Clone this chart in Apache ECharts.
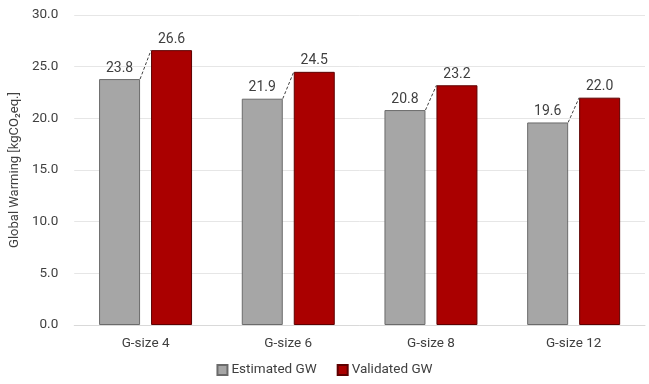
<!DOCTYPE html>
<html>
<head>
<meta charset="utf-8">
<script src="https://cdn.jsdelivr.net/npm/echarts@6/dist/echarts.min.js"></script>
<style>
  html, body { margin: 0; padding: 0; background: #fff; }
  #chart { width: 649px; height: 384px; }
</style>
</head>
<body>
<div id="chart"></div>
<script>
// Global warming per grid size: estimated vs validated
const categories = ['G-size 4', 'G-size 6', 'G-size 8', 'G-size 12'];
const estimatedGW = [23.8, 21.9, 20.8, 19.6];
const validatedGW = [26.6, 24.5, 23.2, 22.0];
const yTicks = { min: 0, max: 30, interval: 5 };

const FONT = 'Roboto';
const BAR_W = 41;
const BAR_GAP = 11;

const chart = echarts.init(document.getElementById('chart'));

// dashed connector from the top-right of the estimated bar to the top-left of the validated bar
const connectorData = categories.map((c, i) => [i, estimatedGW[i], validatedGW[i]]);

chart.setOption({
  animation: false,
  textStyle: { fontFamily: FONT },
  grid: { left: 73, right: 4, top: 15, bottom: 59 },
  legend: {
    bottom: 2,
    left: 'center',
    icon: 'rect',
    itemWidth: 10,
    itemHeight: 10,
    itemGap: 20,
    textStyle: { fontFamily: FONT, fontSize: 13.5, color: '#404040', padding: [0, 0, 0, -1] },
    data: ['Estimated GW', 'Validated GW']
  },
  xAxis: {
    type: 'category',
    data: categories,
    axisLine: { lineStyle: { color: '#d9d9d9' } },
    axisTick: { show: false },
    axisLabel: { fontFamily: FONT, fontSize: 13.5, color: '#404040', margin: 12 }
  },
  yAxis: {
    type: 'value',
    min: yTicks.min,
    max: yTicks.max,
    interval: yTicks.interval,
    name: 'Global Warming [kgCO\u2082eq.]',
    nameLocation: 'middle',
    nameGap: 48,
    nameTextStyle: { fontFamily: FONT, fontSize: 13, color: '#404040' },
    axisLabel: {
      fontFamily: FONT, fontSize: 13.5, color: '#404040', margin: 16,
      formatter: v => v.toFixed(1)
    },
    splitLine: { lineStyle: { color: '#e6e6e6' } },
    axisLine: { show: false },
    axisTick: { show: false }
  },
  series: [
    {
      name: 'Estimated GW',
      type: 'bar',
      data: estimatedGW,
      barWidth: BAR_W,
      barGap: (BAR_GAP / BAR_W * 100).toFixed(1) + '%',
      itemStyle: { color: '#a6a6a6', borderColor: '#6b6b6b', borderWidth: 1 },
      label: {
        show: true, position: 'top', distance: 4,
        fontFamily: FONT, fontSize: 14, color: '#404040',
        formatter: p => p.value.toFixed(1)
      }
    },
    {
      name: 'Validated GW',
      type: 'bar',
      data: validatedGW,
      barWidth: BAR_W,
      itemStyle: { color: '#aa0000', borderColor: '#5e0000', borderWidth: 1 },
      label: {
        show: true, position: 'top', distance: 4,
        fontFamily: FONT, fontSize: 14, color: '#404040',
        formatter: p => p.value.toFixed(1)
      }
    },
    {
      name: 'connector',
      type: 'custom',
      data: connectorData,
      silent: true,
      z: 5,
      renderItem: (params, api) => {
        const a = api.coord([api.value(0), api.value(1)]);
        const b = api.coord([api.value(0), api.value(2)]);
        const half = BAR_GAP / 2;
        return {
          type: 'line',
          shape: { x1: a[0] - half, y1: a[1], x2: b[0] + half, y2: b[1] },
          style: { stroke: '#404040', lineWidth: 1, lineDash: [3, 2] }
        };
      }
    }
  ]
});
</script>
</body>
</html>
